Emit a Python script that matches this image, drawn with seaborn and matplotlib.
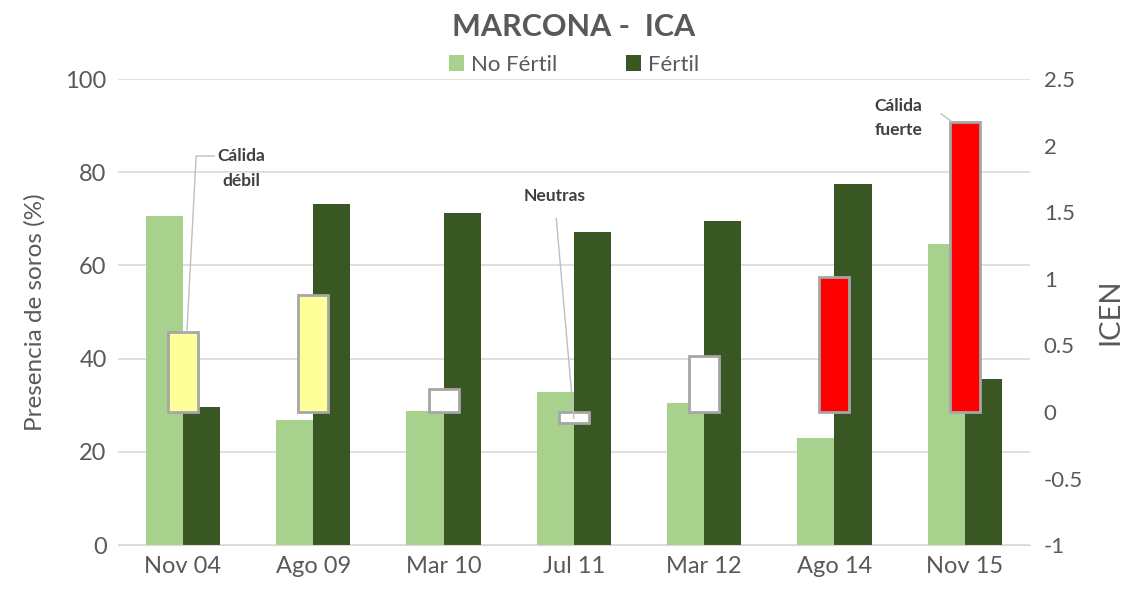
import pandas as pd
import matplotlib
matplotlib.use('Agg')
import matplotlib.pyplot as plt
import seaborn as sns

# data
periodos = ['Nov 04', 'Ago 09', 'Mar 10', 'Jul 11', 'Mar 12', 'Ago 14', 'Nov 15']
no_fertil = [70.6, 26.8, 28.8, 32.9, 30.4, 23.0, 64.7]
fertil = [29.7, 73.2, 71.2, 67.2, 69.5, 77.4, 35.6]
icen = [0.60, 0.88, 0.17, -0.08, 0.42, 1.01, 2.18]
icen_colores = ['#FFFF99', '#FFFF99', '#FFFFFF', '#FFFFFF', '#FFFFFF', '#FF0000', '#FF0000']

sns.set_style('white')
plt.rcParams['font.family'] = ['Lato', 'DejaVu Sans']
gris = '#595959'

df = pd.DataFrame({'periodo': periodos * 2,
                   'valor': no_fertil + fertil,
                   'serie': ['No Fértil'] * len(periodos) + ['Fértil'] * len(periodos)})

fig, ax = plt.subplots(figsize=(11.33, 5.99), dpi=100)
fig.subplots_adjust(left=0.104, right=0.909, bottom=0.09, top=0.868)

sns.barplot(data=df, x='periodo', y='valor', hue='serie', ax=ax, width=0.57,
            palette=['#A9D18E', '#385723'], saturation=1, linewidth=0)
ax.set_ylim(0, 100)
ax.set_yticks(range(0, 101, 20))
ax.grid(axis='y', color='#D9D9D9', linewidth=1.2)
ax.set_axisbelow(True)
for s in ['top', 'left', 'right']:
    ax.spines[s].set_visible(False)
ax.spines['bottom'].set_color('#D9D9D9')
ax.set_xlabel('')
ax.set_ylabel('Presencia de soros (%)', fontsize=17.5, color=gris, labelpad=14)
ax.tick_params(axis='y', length=0, labelsize=17, labelcolor=gris, pad=8)
ax.tick_params(axis='x', length=0, labelsize=17, labelcolor=gris, pad=8)

ax.legend(loc='lower center', bbox_to_anchor=(0.5, 0.985), ncol=2, frameon=False,
          fontsize=16, labelcolor=gris, handlelength=0.7, handleheight=0.7,
          columnspacing=3.1, handletextpad=0.3, borderaxespad=0.1)
ax.set_title('MARCONA -  ICA', fontsize=22, fontweight='bold', color=gris, pad=31)

ax2 = ax.twinx()
sns.barplot(x=periodos, y=icen, ax=ax2, width=0.23, palette=icen_colores,
            hue=periodos, legend=False, saturation=1,
            edgecolor='#A6A6A6', linewidth=2)
ax2.set_ylim(-1, 2.5)
ax2.set_yticks([-1, -0.5, 0, 0.5, 1, 1.5, 2, 2.5])
ax2.set_yticklabels(['-1', '-0.5', '0', '0.5', '1', '1.5', '2', '2.5'])
for s in ['top', 'left', 'right', 'bottom']:
    ax2.spines[s].set_visible(False)
ax2.set_ylabel('ICEN', fontsize=21, color=gris, labelpad=10)
ax2.tick_params(axis='y', length=0, labelsize=16, labelcolor=gris, pad=10)

# annotations
kw = dict(fontsize=12.5, fontweight='bold', color='#404040', ha='center', va='center')
linea = dict(arrowstyle='-', color='#BFBFBF', lw=1, shrinkB=0)
ax2.annotate('Cálida\ndébil', xy=(0.03, icen[0]), xytext=(0.45, 1.83), linespacing=1.7,
             arrowprops=dict(linea, shrinkA=0, relpos=(0, 0.8),
                             connectionstyle='angle,angleA=0,angleB=87,rad=0'), **kw)
ax2.annotate('Neutras', xy=(3, -0.05), xytext=(2.85, 1.62),
             arrowprops=dict(linea, shrinkA=8), **kw)
ax2.annotate('Cálida\nfuerte', xy=(5.9, 2.18), xytext=(5.49, 2.21), linespacing=1.6,
             arrowprops=dict(linea, shrinkA=14, relpos=(1, 0.95)), **kw)

plt.savefig('out.png', dpi=100)
